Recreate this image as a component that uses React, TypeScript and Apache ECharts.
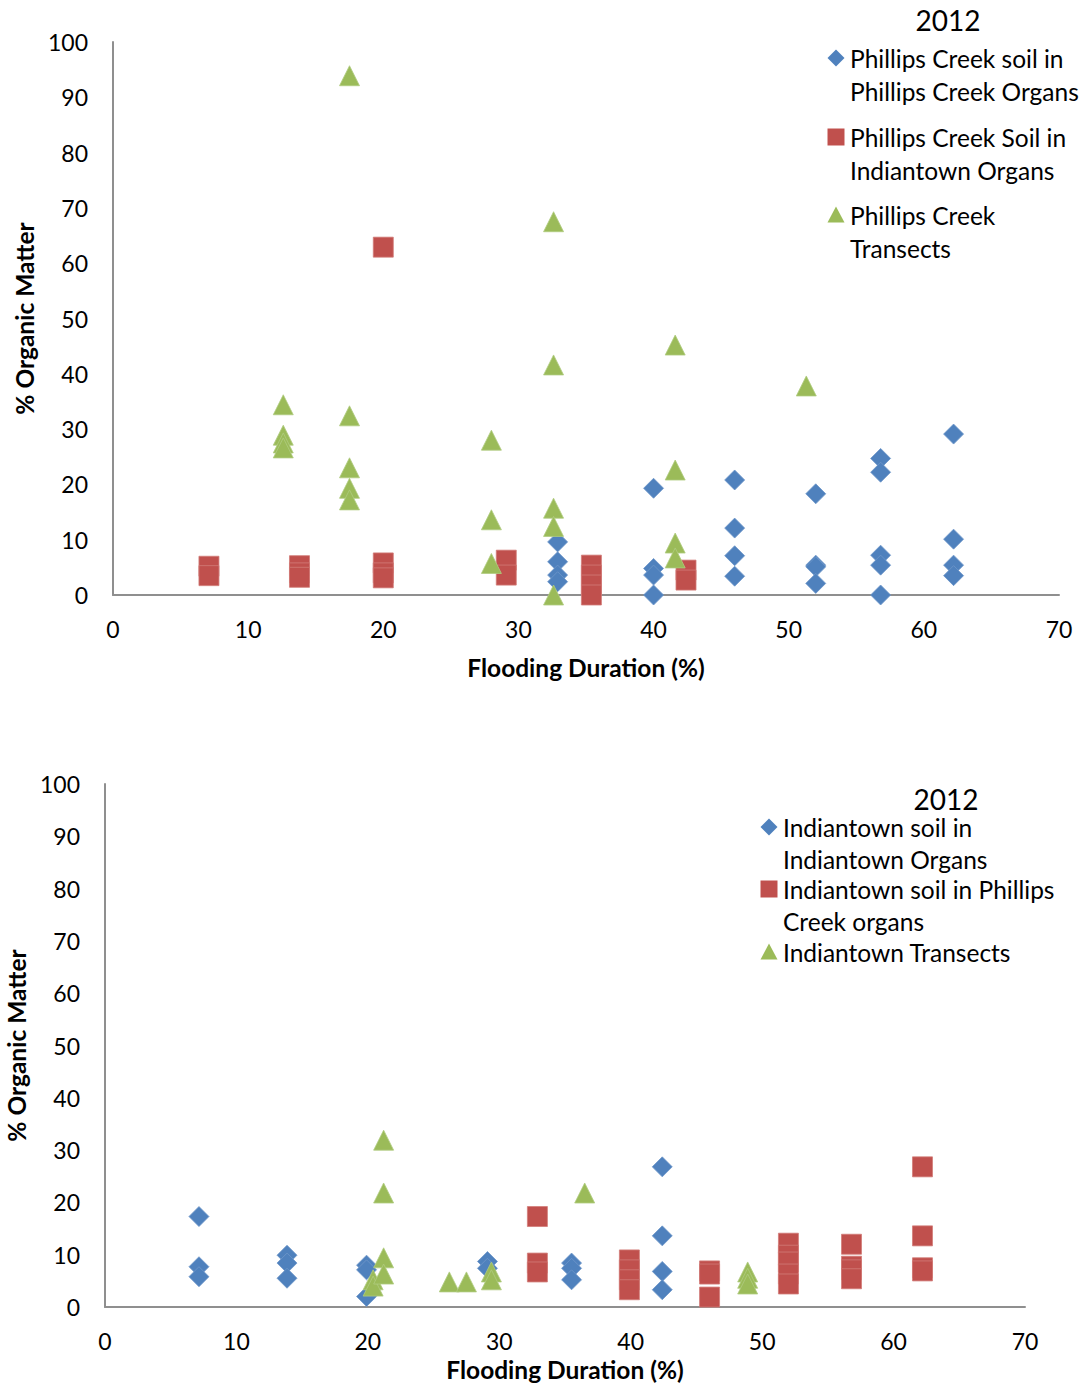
import React, { useEffect, useRef } from "react";
import * as echarts from "echarts";

// ---------- Data ----------
const yearLabel = "2012";
const xTitle = "Flooding Duration (%)";
const yTitle = "% Organic Matter";

// Top chart (Phillips Creek)
const pcSoilInPcName = "Phillips Creek soil in Phillips Creek Organs";
const pcSoilInPc: [number, number][] = [
  [32.9, 9.6], [32.9, 6.0], [32.9, 3.6], [32.9, 2.4],
  [40.0, 19.3], [40.0, 4.8], [40.0, 3.6], [40.0, 0.0],
  [46.0, 20.8], [46.0, 12.1], [46.0, 7.1], [46.0, 3.4],
  [52.0, 18.3], [52.0, 5.4], [52.0, 5.1], [52.0, 2.1],
  [56.8, 24.7], [56.8, 22.2], [56.8, 7.2], [56.8, 5.4], [56.8, 0.0],
  [62.2, 29.1], [62.2, 10.1], [62.2, 5.4], [62.2, 3.5],
];
const pcSoilInItName = "Phillips Creek Soil in Indiantown Organs";
const pcSoilInIt: [number, number][] = [
  [7.1, 5.2], [7.1, 3.5],
  [13.8, 5.3], [13.8, 4.0], [13.8, 3.2],
  [20.0, 62.9], [20.0, 5.8], [20.0, 4.0], [20.0, 3.1],
  [29.1, 6.3], [29.1, 3.6],
  [35.4, 5.4], [35.4, 3.6], [35.4, 1.8], [35.4, 0.0],
  [42.4, 4.5], [42.4, 2.7],
];
const pcTransectsName = "Phillips Creek Transects";
const pcTransects: [number, number][] = [
  [12.6, 34.4], [12.6, 28.9], [12.6, 27.5], [12.6, 26.6],
  [17.5, 93.9], [17.5, 32.4], [17.5, 23.0], [17.5, 19.3], [17.5, 17.2],
  [28.0, 28.0], [28.0, 13.6], [28.0, 5.7],
  [32.6, 67.5], [32.6, 41.6], [32.6, 15.7], [32.6, 12.4], [32.6, 0.0],
  [41.6, 45.2], [41.6, 22.6], [41.6, 9.4], [41.6, 6.7],
  [51.3, 37.8],
];

// Bottom chart (Indiantown)
const itSoilInItName = "Indiantown soil in Indiantown Organs";
const itSoilInIt: [number, number][] = [
  [7.15, 17.3], [7.15, 7.7], [7.15, 5.8],
  [13.85, 9.9], [13.85, 8.4], [13.85, 5.5],
  [19.9, 8.0], [19.9, 7.1], [19.9, 2.0],
  [29.1, 8.7], [29.1, 7.4],
  [35.5, 8.4], [35.5, 7.4], [35.5, 5.2],
  [42.4, 26.8], [42.4, 13.6], [42.4, 6.8], [42.4, 3.3],
];
const itSoilInPcName = "Indiantown soil in Phillips Creek organs";
const itSoilInPc: [number, number][] = [
  [32.9, 17.3], [32.9, 8.4], [32.9, 6.7],
  [39.9, 9.0], [39.9, 7.1], [39.9, 5.2], [39.9, 3.3],
  [46.0, 6.9], [46.0, 6.3], [46.0, 1.9],
  [52.0, 12.2], [52.0, 9.9], [52.0, 8.6], [52.0, 6.3], [52.0, 4.4],
  [56.8, 12.0], [56.8, 7.8], [56.8, 7.1], [56.8, 5.4],
  [62.2, 26.8], [62.2, 13.6], [62.2, 7.5], [62.2, 6.9],
];
const itTransectsName = "Indiantown Transects";
const itTransects: [number, number][] = [
  [20.4, 5.2], [20.4, 4.0],
  [21.2, 31.9], [21.2, 21.8], [21.2, 9.4], [21.2, 6.3],
  [26.2, 4.8], [27.5, 4.8],
  [29.4, 6.7], [29.4, 5.2],
  [36.5, 21.8],
  [48.9, 6.7], [48.9, 5.5], [48.9, 4.4],
];

// Legend text lines
const topLegendLines: string[][] = [
  ["Phillips Creek soil in", "Phillips Creek Organs"],
  ["Phillips Creek Soil in", "Indiantown Organs"],
  ["Phillips Creek", "Transects"],
];
const bottomLegendLines: string[][] = [
  ["Indiantown soil in", "Indiantown Organs"],
  ["Indiantown soil in Phillips", "Creek organs"],
  ["Indiantown Transects"],
];

// ---------- Styles ----------
const BLUE = "#4F81BD";
const RED = "#C0504D";
const GREEN = "#9BBB59";
const AXIS = "#8f8f8f";
const FONT = "Lato, 'Open Sans', sans-serif";

function iconEl(kind: string, cx: number, cy: number, color: string) {
  const h = 8.5;
  if (kind === "diamond") {
    return { type: "polygon", shape: { points: [[cx, cy - h], [cx + h, cy], [cx, cy + h], [cx - h, cy]] }, style: { fill: color } };
  }
  if (kind === "rect") {
    return { type: "rect", shape: { x: cx - h, y: cy - h, width: 2 * h, height: 2 * h }, style: { fill: color } };
  }
  return { type: "polygon", shape: { points: [[cx, cy - h], [cx + h, cy + h - 1], [cx - h, cy + h - 1]] }, style: { fill: color } };
}

function legendGraphics(
  titleX: number, titleY: number, iconX: number, textX: number,
  rowYs: number[], lineH: number, lines: string[][], kinds: string[], colors: string[]
) {
  const els: any[] = [
    {
      type: "text", x: titleX, y: titleY,
      style: { text: yearLabel, font: `28px ${FONT}`, fill: "#000", align: "center", verticalAlign: "middle" },
    },
  ];
  lines.forEach((ls, i) => {
    els.push(iconEl(kinds[i], iconX, rowYs[i], colors[i]));
    ls.forEach((line, j) => {
      els.push({
        type: "text", x: textX, y: rowYs[i] + j * lineH,
        style: { text: line, font: `24.5px ${FONT}`, fill: "#000", align: "left", verticalAlign: "middle" },
      });
    });
  });
  return els;
}

function axisCommon() {
  return {
    axisLine: { show: true, lineStyle: { color: AXIS, width: 2 } },
    axisTick: { show: false },
    splitLine: { show: false },
    axisLabel: { color: "#000", fontSize: 23, fontFamily: FONT, margin: 22 },
    nameTextStyle: { color: "#000", fontSize: 24.5, fontWeight: "bold", fontFamily: FONT },
  };
}

export default function App() {
  const ref = useRef<HTMLDivElement>(null);
  useEffect(() => {
    if (!ref.current) return;
    const chart = echarts.init(ref.current, undefined, { renderer: "svg" });
    const sym = (name: string, data: [number, number][], xi: number, symbol: string, color: string, border: string) => ({
      type: "scatter", name, data, xAxisIndex: xi, yAxisIndex: xi,
      symbol, symbolSize: 20,
      itemStyle: { color, opacity: 1, borderColor: border, borderWidth: 0.8 },
    });
    chart.setOption({
      animation: false,
      backgroundColor: "#fff",
      textStyle: { fontFamily: FONT },
      grid: [
        { left: 113, top: 42, width: 946, height: 553, containLabel: false, outerBoundsMode: "none" },
        { left: 105, top: 784, width: 920, height: 523, containLabel: false, outerBoundsMode: "none" },
      ],
      xAxis: [
        { ...axisCommon(), type: "value", gridIndex: 0, min: 0, max: 70, interval: 10, name: xTitle, nameLocation: "middle", nameGap: 60 },
        { ...axisCommon(), type: "value", gridIndex: 1, min: 0, max: 70, interval: 10, name: xTitle, nameLocation: "middle", nameGap: 50 },
      ],
      yAxis: [
        { ...axisCommon(), type: "value", gridIndex: 0, min: 0, max: 100, interval: 10, name: yTitle, nameLocation: "middle", nameGap: 76, axisLabel: { ...axisCommon().axisLabel, margin: 25 } },
        { ...axisCommon(), type: "value", gridIndex: 1, min: 0, max: 100, interval: 10, name: yTitle, nameLocation: "middle", nameGap: 76, axisLabel: { ...axisCommon().axisLabel, margin: 25 } },
      ],
      series: [
        sym(pcSoilInPcName, pcSoilInPc, 0, "diamond", BLUE, "#6f97c9"),
        sym(pcSoilInItName, pcSoilInIt, 0, "rect", RED, "#d27c79"),
        sym(pcTransectsName, pcTransects, 0, "triangle", GREEN, "#b0cb80"),
        sym(itSoilInItName, itSoilInIt, 1, "diamond", BLUE, "#6f97c9"),
        sym(itSoilInPcName, itSoilInPc, 1, "rect", RED, "#d27c79"),
        sym(itTransectsName, itTransects, 1, "triangle", GREEN, "#b0cb80"),
      ],
      graphic: [
        ...legendGraphics(948, 20, 836, 850, [58, 137, 215], 33, topLegendLines, ["diamond", "rect", "triangle"], [BLUE, RED, GREEN]),
        ...legendGraphics(946, 799, 769, 783, [827, 889, 952], 32, bottomLegendLines, ["diamond", "rect", "triangle"], [BLUE, RED, GREEN]),
      ],
    });
    return () => chart.dispose();
  }, []);
  return (
    <div
      ref={ref}
      style={{ position: "absolute", left: 0, top: 0, width: 1081, height: 1385, background: "#fff" }}
    />
  );
}
